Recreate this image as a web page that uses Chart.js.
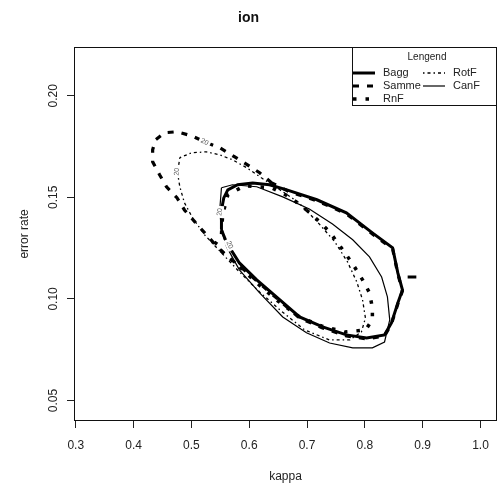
<!DOCTYPE html>
<html>
<head>
<meta charset="utf-8">
<script src="https://cdn.jsdelivr.net/npm/chart.js@4.4.1/dist/chart.umd.min.js"></script>
<style>
  body { margin: 0; background: #fff; }
  canvas { display: block; }
</style>
</head>
<body>
<canvas id="kappa-error" width="503" height="491"></canvas>
<script>
// axes
var xTicks = [0.3, 0.4, 0.5, 0.6, 0.7, 0.8, 0.9, 1.0];
var yTicks = [0.05, 0.10, 0.15, 0.20];

var seriesNames = ['Bagg', 'Samme', 'RnF', 'RotF', 'CanF'];

// contour level 20 for each ensemble (kappa, error rate)
var baggKappa = [0.552, 0.552, 0.556, 0.563, 0.580, 0.606, 0.635, 0.665, 0.717, 0.768, 0.813, 0.848, 0.857, 0.865, 0.857, 0.846, 0.834, 0.803, 0.768, 0.727, 0.687, 0.647, 0.613, 0.583, 0.561, 0.552];
var baggError = [0.1340, 0.1438, 0.1497, 0.1537, 0.1562, 0.1571, 0.1562, 0.1537, 0.1488, 0.1424, 0.1325, 0.1251, 0.1128, 0.1044, 0.0980, 0.0882, 0.0823, 0.0808, 0.0823, 0.0862, 0.0911, 0.1010, 0.1094, 0.1177, 0.1276, 0.1340];
// small separate piece of the Bagg contour
var baggTailKappa = [0.874, 0.889];
var baggTailError = [0.1108, 0.1108];

var sammeKappa = [0.639, 0.618, 0.597, 0.575, 0.549, 0.523, 0.500, 0.475, 0.454, 0.438, 0.433, 0.433, 0.445, 0.457, 0.475, 0.488, 0.506, 0.523, 0.540, 0.561, 0.583, 0.613, 0.647, 0.687, 0.727, 0.768, 0.803, 0.834, 0.846, 0.857, 0.865, 0.857, 0.848, 0.813, 0.768, 0.717, 0.670, 0.639];
var sammeError = [0.1571, 0.1621, 0.1660, 0.1699, 0.1744, 0.1773, 0.1803, 0.1823, 0.1818, 0.1783, 0.1734, 0.1675, 0.1611, 0.1552, 0.1498, 0.1438, 0.1379, 0.1325, 0.1271, 0.1212, 0.1163, 0.1089, 0.1005, 0.0906, 0.0857, 0.0818, 0.0803, 0.0818, 0.0877, 0.0975, 0.1039, 0.1123, 0.1246, 0.1320, 0.1419, 0.1483, 0.1527, 0.1571];

var rnfKappa = [0.699, 0.718, 0.739, 0.753, 0.768, 0.782, 0.796, 0.808, 0.813, 0.813, 0.801, 0.765, 0.725, 0.687, 0.647, 0.613, 0.580, 0.561, 0.540, 0.552, 0.554, 0.563, 0.592, 0.639, 0.670, 0.699];
var rnfError = [0.1438, 0.1389, 0.1330, 0.1276, 0.1217, 0.1158, 0.1094, 0.1030, 0.0956, 0.0897, 0.0847, 0.0837, 0.0867, 0.0911, 0.0995, 0.1079, 0.1167, 0.1212, 0.1266, 0.1315, 0.1414, 0.1512, 0.1557, 0.1547, 0.1502, 0.1438];

var rotfKappa = [0.480, 0.500, 0.526, 0.549, 0.571, 0.596, 0.621, 0.653, 0.684, 0.718, 0.748, 0.770, 0.786, 0.796, 0.801, 0.794, 0.774, 0.739, 0.696, 0.653, 0.618, 0.583, 0.552, 0.523, 0.502, 0.488, 0.480, 0.476, 0.480];
var rotfError = [0.1695, 0.1719, 0.1724, 0.1709, 0.1685, 0.1645, 0.1596, 0.1537, 0.1478, 0.1379, 0.1281, 0.1182, 0.1084, 0.0995, 0.0906, 0.0837, 0.0798, 0.0798, 0.0847, 0.0946, 0.1034, 0.1133, 0.1227, 0.1315, 0.1399, 0.1473, 0.1552, 0.1621, 0.1695];

var canfKappa = [0.552, 0.571, 0.613, 0.658, 0.704, 0.744, 0.779, 0.808, 0.829, 0.839, 0.843, 0.834, 0.813, 0.779, 0.739, 0.699, 0.658, 0.618, 0.583, 0.561, 0.552, 0.549, 0.552];
var canfError = [0.1547, 0.1562, 0.1552, 0.1502, 0.1443, 0.1369, 0.1291, 0.1207, 0.1108, 0.1010, 0.0897, 0.0788, 0.0759, 0.0759, 0.0783, 0.0833, 0.0911, 0.1030, 0.1143, 0.1256, 0.1340, 0.1438, 0.1547];

// contour level labels
var levelText = ['20', '20', '20', '20'];
var levelKappa = [0.523, 0.475, 0.549, 0.566];
var levelError = [0.1773, 0.1626, 0.1428, 0.1266];
var levelAngle = [25, -85, -85, 65];

// line look of each ensemble
var lineStyle = {
    Bagg:  { width: 3, dash: [] },
    Samme: { width: 3.2, dash: [6, 8] },
    RnF:   { width: 3.5, dash: [3.5, 9] },
    RotF:  { width: 1.3, dash: [1.5, 3, 3, 3] },
    CanF:  { width: 1.2, dash: [] }
};

function toPoints(xs, ys) {
    var pts = [];
    for (var i = 0; i < xs.length; i++) {
        pts.push({ x: xs[i], y: ys[i] });
    }
    return pts;
}

function contour(name, xs, ys) {
    return {
        label: name,
        data: toPoints(xs, ys),
        showLine: true,
        borderColor: '#000',
        borderWidth: lineStyle[name].width,
        borderDash: lineStyle[name].dash,
        pointRadius: 0,
        tension: 0,
        fill: false
    };
}

var datasets = [
    contour('CanF', canfKappa, canfError),
    contour('RotF', rotfKappa, rotfError),
    contour('RnF', rnfKappa, rnfError),
    contour('Samme', sammeKappa, sammeError),
    contour('Bagg', baggKappa, baggError),
    contour('Bagg', baggTailKappa, baggTailError)
];

Chart.defaults.font.family = '"Liberation Sans", Arial, sans-serif';
Chart.defaults.color = '#222';

// frame around the plot region
var boxPlugin = {
    id: 'plotBox',
    afterDraw: function (chart) {
        var a = chart.chartArea, ctx = chart.ctx;
        ctx.save();
        ctx.strokeStyle = '#111';
        ctx.lineWidth = 1;
        ctx.strokeRect(Math.round(a.left) + 0.5, Math.round(a.top) + 0.5,
            Math.round(a.right - a.left) - 1, Math.round(a.bottom - a.top) - 1);
        ctx.restore();
    }
};

// "20" labels sitting on the contour lines
var levelPlugin = {
    id: 'levelLabels',
    afterDatasetsDraw: function (chart) {
        var ctx = chart.ctx, xs = chart.scales.x, ys = chart.scales.y;
        ctx.save();
        ctx.font = '7px "Liberation Sans", Arial, sans-serif';
        ctx.textAlign = 'center';
        ctx.textBaseline = 'middle';
        for (var i = 0; i < levelText.length; i++) {
            var px = xs.getPixelForValue(levelKappa[i]);
            var py = ys.getPixelForValue(levelError[i]);
            ctx.save();
            ctx.translate(px, py);
            ctx.rotate(levelAngle[i] * Math.PI / 180);
            ctx.fillStyle = '#fff';
            ctx.fillRect(-6, -4, 12, 8);
            ctx.fillStyle = '#555';
            ctx.fillText(levelText[i], 0, 0);
            ctx.restore();
        }
        ctx.restore();
    }
};

// two column legend box in the top right corner
var legendPlugin = {
    id: 'boxLegend',
    afterDraw: function (chart) {
        var a = chart.chartArea, ctx = chart.ctx;
        var w = 145, h = 58;
        var left = Math.round(a.right - w), top = Math.round(a.top);
        ctx.save();
        ctx.fillStyle = '#fff';
        ctx.fillRect(left, top, w, h);
        ctx.strokeStyle = '#111';
        ctx.lineWidth = 1;
        ctx.strokeRect(left + 0.5, top + 0.5, w - 1, h);
        ctx.fillStyle = '#222';
        ctx.textAlign = 'center';
        ctx.textBaseline = 'middle';
        ctx.font = '10px "Liberation Sans", Arial, sans-serif';
        ctx.fillText('Lengend', left + 75, top + 10);
        ctx.font = '11px "Liberation Sans", Arial, sans-serif';
        ctx.textAlign = 'left';
        for (var i = 0; i < seriesNames.length; i++) {
            var col = Math.floor(i / 3), row = i % 3;
            var x0 = left + 1 + col * 70;
            var y0 = top + 26 + row * 13;
            var st = lineStyle[seriesNames[i]];
            ctx.beginPath();
            ctx.setLineDash(st.dash);
            ctx.lineWidth = st.width;
            ctx.strokeStyle = '#000';
            ctx.moveTo(x0, y0);
            ctx.lineTo(x0 + 22, y0);
            ctx.stroke();
            ctx.setLineDash([]);
            ctx.fillText(seriesNames[i], x0 + 30, y0);
        }
        ctx.restore();
    }
};

var ctx = document.getElementById('kappa-error').getContext('2d');
var myChart = new Chart(ctx, {
    type: 'scatter',
    data: { datasets: datasets },
    options: {
        responsive: false,
        animation: false,
        devicePixelRatio: 1,
        layout: { padding: { left: 0, right: 6, top: 0, bottom: 0 } },
        plugins: {
            legend: { display: false },
            tooltip: { enabled: false },
            title: {
                display: true,
                text: 'ion',
                color: '#111',
                font: { size: 14, weight: 'bold' },
                padding: { top: 10, bottom: 20 }
            }
        },
        scales: {
            x: {
                type: 'linear',
                min: 0.297,
                max: 1.0285,
                afterBuildTicks: function (axis) {
                    axis.ticks = xTicks.map(function (v) { return { value: v }; });
                },
                afterFit: function (axis) { axis.height = 70; },
                border: { display: false },
                grid: { drawOnChartArea: false, drawTicks: true, tickLength: 7, color: '#222' },
                ticks: {
                    padding: 10,
                    font: { size: 12 },
                    maxRotation: 0,
                    callback: function (v) { return v.toFixed(1); }
                },
                title: { display: true, text: 'kappa', font: { size: 12 }, padding: { top: 0, bottom: 7 } }
            },
            y: {
                type: 'linear',
                min: 0.0399,
                max: 0.2241,
                afterBuildTicks: function (axis) {
                    axis.ticks = yTicks.map(function (v) { return { value: v }; });
                },
                afterFit: function (axis) { axis.width = 74; },
                border: { display: false },
                grid: { drawOnChartArea: false, drawTicks: true, tickLength: 7, color: '#222' },
                ticks: {
                    padding: 2,
                    font: { size: 12 },
                    minRotation: 90,
                    maxRotation: 90,
                    crossAlign: 'center',
                    callback: function (v) { return v.toFixed(2); }
                },
                title: { display: true, text: 'error rate', font: { size: 12 }, padding: { top: 17, bottom: 0 } }
            }
        }
    },
    plugins: [boxPlugin, levelPlugin, legendPlugin]
});
</script>
</body>
</html>
